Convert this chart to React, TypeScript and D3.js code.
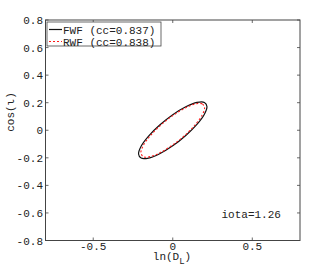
import React, {useEffect, useRef} from "react";
import * as d3 from "d3";

// ellipse contours (ln(D_L), cos(iota))
const fwfX = [0.215, 0.199, 0.152, 0.082, 0.0, -0.082, -0.152, -0.199, -0.215, -0.199, -0.152, -0.082, 0.0, 0.082, 0.152, 0.199];
const fwfY = [0.172, 0.202, 0.202, 0.170, 0.113, 0.038, -0.042, -0.116, -0.172, -0.202, -0.202, -0.170, -0.113, -0.038, 0.042, 0.116];
const rwfX = [0.200, 0.185, 0.141, 0.077, 0.0, -0.077, -0.141, -0.185, -0.200, -0.185, -0.141, -0.077, 0.0, 0.077, 0.141, 0.185];
const rwfY = [0.163, 0.192, 0.191, 0.161, 0.106, 0.036, -0.040, -0.110, -0.163, -0.192, -0.191, -0.161, -0.106, -0.036, 0.040, 0.110];

const xTicks = [-0.5, 0, 0.5];
const yTicks = [-0.8, -0.6, -0.4, -0.2, 0, 0.2, 0.4, 0.6, 0.8];
const legendLabels = ["FWF (cc=0.837)", "RWF (cc=0.838)"];
const annotation = "iota=1.26";

const W = 332;
const H = 271;
const font = "'Liberation Mono', 'DejaVu Sans Mono', monospace";

const fmt = (d: number) => (d === 0 ? "0" : d.toFixed(1));

const App = () => {
    const ref = useRef<SVGSVGElement>(null);

    useEffect(() => {
        const svg = d3.select(ref.current);
        svg.selectAll("*").remove();

        const x = d3.scaleLinear().domain([-0.8, 0.8]).range([45.5, 300]);
        const y = d3.scaleLinear().domain([-0.8, 0.8]).range([240.5, 20]);

        const [x0, x1] = x.range();
        const [y0, y1] = y.range();

        // frame
        svg.append("rect")
            .attr("x", x0).attr("y", y1)
            .attr("width", x1 - x0).attr("height", y0 - y1)
            .attr("fill", "white").attr("stroke", "#444").attr("stroke-width", 1);

        const tl = 3;
        const ticks = svg.append("g").attr("stroke", "#444").attr("stroke-width", 0.8);
        xTicks.forEach(t => {
            ticks.append("line").attr("x1", x(t)).attr("x2", x(t)).attr("y1", y0).attr("y2", y0 - tl);
            ticks.append("line").attr("x1", x(t)).attr("x2", x(t)).attr("y1", y1).attr("y2", y1 + tl);
        });
        yTicks.forEach(t => {
            ticks.append("line").attr("x1", x0).attr("x2", x0 + tl).attr("y1", y(t)).attr("y2", y(t));
            ticks.append("line").attr("x1", x1).attr("x2", x1 - tl).attr("y1", y(t)).attr("y2", y(t));
        });

        const lbl = svg.append("g").attr("font-family", font).attr("font-size", 11).attr("fill", "#222");
        xTicks.forEach(t => {
            lbl.append("text").attr("x", x(t)).attr("y", 250).attr("text-anchor", "middle").text(fmt(t));
        });
        yTicks.forEach(t => {
            lbl.append("text").attr("x", 43).attr("y", y(t) + 4).attr("text-anchor", "end").text(fmt(t));
        });

        // axis titles
        const xl = lbl.append("text").attr("x", 172).attr("y", 260).attr("text-anchor", "middle");
        xl.append("tspan").text("ln(D");
        xl.append("tspan").attr("dy", 4).attr("font-size", 9).text("L");
        xl.append("tspan").attr("dy", -4).text(")");

        lbl.append("text")
            .attr("transform", "translate(13.5,112) rotate(-90)")
            .attr("text-anchor", "middle")
            .text("cos(ι)");

        lbl.append("text").attr("x", 221.5).attr("y", 218).text(annotation);

        // curves
        const line = d3.line<[number, number]>()
            .x(d => x(d[0])).y(d => y(d[1]))
            .curve(d3.curveCatmullRomClosed);

        const fwf = fwfX.map((v, i) => [v, fwfY[i]] as [number, number]);
        const rwf = rwfX.map((v, i) => [v, rwfY[i]] as [number, number]);

        svg.append("path").attr("d", line(fwf)).attr("fill", "none")
            .attr("stroke", "#111").attr("stroke-width", 1.2);
        svg.append("path").attr("d", line(rwf)).attr("fill", "none")
            .attr("stroke", "#ff1a1a").attr("stroke-width", 1.1).attr("stroke-dasharray", "2,2");

        // legend
        const lg = svg.append("g");
        lg.append("rect").attr("x", 47).attr("y", 22).attr("width", 114).attr("height", 24)
            .attr("fill", "white").attr("stroke", "#444").attr("stroke-width", 0.8);
        const styles = [{c: "#111", d: null, w: 1.2}, {c: "#ff1a1a", d: "2,2", w: 1.2}];
        legendLabels.forEach((s, i) => {
            const ly = 29.5 + i * 12;
            lg.append("line").attr("x1", 49).attr("x2", 62).attr("y1", ly).attr("y2", ly)
                .attr("stroke", styles[i].c).attr("stroke-width", styles[i].w)
                .attr("stroke-dasharray", styles[i].d);
            lg.append("text").attr("x", 63).attr("y", ly + 4)
                .attr("font-family", font).attr("font-size", 11).attr("fill", "#222").text(s);
        });
    }, []);

    return (
        <svg ref={ref} width={W} height={H} style={{position: "absolute", left: 0, top: 0, background: "white"}}/>
    );
};

export default App;
